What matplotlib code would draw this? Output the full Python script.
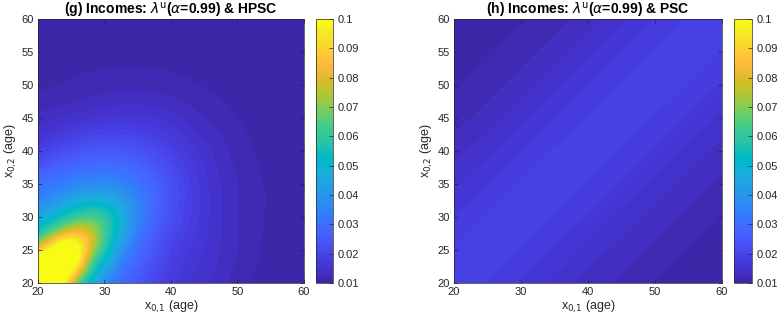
import numpy as np
import matplotlib
matplotlib.use("Agg")
import matplotlib.pyplot as plt
import matplotlib.tri as mtri
from matplotlib.colors import ListedColormap, Normalize
from matplotlib.cm import ScalarMappable

# (g) HPSC: edades de lectura (más densas cerca del pico)
ages_g = [20, 22, 24, 26, 28, 30, 32, 35, 40, 45, 50, 55, 60]
# filas = x_{0,2} (20 -> 60), columnas = x_{0,1} (20 -> 60)
lam_hpsc = [
    [0.1250, 0.1118, 0.0968, 0.0646, 0.0500, 0.0376, 0.0300, 0.0239, 0.0174, 0.0146, 0.0121, 0.0108, 0.0103],
    [0.1125, 0.1160, 0.1069, 0.0866, 0.0595, 0.0454, 0.0348, 0.0263, 0.0182, 0.0150, 0.0124, 0.0109, 0.0103],
    [0.1000, 0.1074, 0.1075, 0.0995, 0.0711, 0.0534, 0.0400, 0.0287, 0.0191, 0.0153, 0.0127, 0.0110, 0.0103],
    [0.0700, 0.0887, 0.1003, 0.0964, 0.0792, 0.0600, 0.0459, 0.0314, 0.0201, 0.0157, 0.0128, 0.0110, 0.0104],
    [0.0539, 0.0633, 0.0743, 0.0800, 0.0747, 0.0625, 0.0500, 0.0340, 0.0214, 0.0160, 0.0129, 0.0111, 0.0104],
    [0.0440, 0.0504, 0.0562, 0.0616, 0.0630, 0.0585, 0.0499, 0.0355, 0.0224, 0.0162, 0.0129, 0.0111, 0.0104],
    [0.0369, 0.0406, 0.0450, 0.0491, 0.0512, 0.0503, 0.0453, 0.0353, 0.0230, 0.0163, 0.0129, 0.0112, 0.0104],
    [0.0300, 0.0320, 0.0340, 0.0359, 0.0371, 0.0373, 0.0360, 0.0316, 0.0226, 0.0161, 0.0128, 0.0111, 0.0104],
    [0.0182, 0.0203, 0.0220, 0.0234, 0.0243, 0.0247, 0.0245, 0.0232, 0.0190, 0.0149, 0.0122, 0.0109, 0.0103],
    [0.0132, 0.0138, 0.0144, 0.0150, 0.0155, 0.0159, 0.0161, 0.0160, 0.0148, 0.0128, 0.0114, 0.0105, 0.0103],
    [0.0111, 0.0113, 0.0115, 0.0118, 0.0120, 0.0122, 0.0123, 0.0123, 0.0120, 0.0113, 0.0108, 0.0103, 0.0102],
    [0.0104, 0.0104, 0.0105, 0.0106, 0.0107, 0.0108, 0.0109, 0.0109, 0.0108, 0.0105, 0.0103, 0.0103, 0.0102],
    [0.0102, 0.0102, 0.0102, 0.0103, 0.0103, 0.0103, 0.0103, 0.0103, 0.0103, 0.0103, 0.0102, 0.0102, 0.0102],
]

# (h) PSC: banda suave a lo largo de la diagonal
ages_h = [20, 25, 30, 35, 40, 45, 50, 55, 60]
lam_psc = [
    [0.0193, 0.0183, 0.0168, 0.0151, 0.0137, 0.0124, 0.0113, 0.0110, 0.0108],
    [0.0186, 0.0193, 0.0183, 0.0168, 0.0151, 0.0137, 0.0124, 0.0113, 0.0110],
    [0.0170, 0.0186, 0.0193, 0.0183, 0.0168, 0.0151, 0.0137, 0.0124, 0.0113],
    [0.0152, 0.0170, 0.0186, 0.0193, 0.0183, 0.0168, 0.0151, 0.0137, 0.0124],
    [0.0135, 0.0152, 0.0170, 0.0186, 0.0193, 0.0183, 0.0168, 0.0151, 0.0137],
    [0.0122, 0.0135, 0.0152, 0.0170, 0.0186, 0.0193, 0.0183, 0.0168, 0.0151],
    [0.0112, 0.0122, 0.0135, 0.0152, 0.0170, 0.0186, 0.0193, 0.0183, 0.0168],
    [0.0108, 0.0112, 0.0122, 0.0135, 0.0152, 0.0170, 0.0186, 0.0193, 0.0183],
    [0.0105, 0.0108, 0.0112, 0.0122, 0.0135, 0.0152, 0.0170, 0.0186, 0.0193],
]

titles = [r"(g) Incomes: $\lambda^{\mathrm{u}}$($\alpha$=0.99) & HPSC",
          r"(h) Incomes: $\lambda^{\mathrm{u}}$($\alpha$=0.99) & PSC"]
cticks = [0.01, 0.02, 0.03, 0.04, 0.05, 0.06, 0.07, 0.08, 0.09, 0.1]
clabels = ["0.01", "0.02", "0.03", "0.04", "0.05", "0.06", "0.07", "0.08", "0.09", "0.1"]
xticks = [20, 30, 40, 50, 60]
yticks = [20, 25, 30, 35, 40, 45, 50, 55, 60]

# parula de 64 colores (como MATLAB)
parula = ListedColormap([
    (0.2422, 0.1504, 0.6603), (0.2504, 0.1650, 0.7076), (0.2578, 0.1818, 0.7511), (0.2647, 0.1978, 0.7952),
    (0.2706, 0.2147, 0.8364), (0.2751, 0.2342, 0.8710), (0.2783, 0.2559, 0.8991), (0.2803, 0.2782, 0.9221),
    (0.2813, 0.3006, 0.9414), (0.2810, 0.3228, 0.9579), (0.2795, 0.3447, 0.9717), (0.2760, 0.3667, 0.9829),
    (0.2699, 0.3892, 0.9906), (0.2602, 0.4123, 0.9952), (0.2440, 0.4358, 0.9988), (0.2206, 0.4603, 0.9973),
    (0.1963, 0.4847, 0.9892), (0.1834, 0.5074, 0.9798), (0.1786, 0.5289, 0.9682), (0.1764, 0.5499, 0.9520),
    (0.1687, 0.5703, 0.9359), (0.1540, 0.5902, 0.9218), (0.1460, 0.6091, 0.9079), (0.1380, 0.6276, 0.8973),
    (0.1248, 0.6459, 0.8883), (0.1113, 0.6635, 0.8763), (0.0952, 0.6798, 0.8598), (0.0689, 0.6948, 0.8394),
    (0.0297, 0.7082, 0.8163), (0.0036, 0.7203, 0.7917), (0.0067, 0.7312, 0.7660), (0.0433, 0.7411, 0.7394),
    (0.0964, 0.7500, 0.7120), (0.1408, 0.7584, 0.6842), (0.1717, 0.7670, 0.6554), (0.1938, 0.7758, 0.6251),
    (0.2161, 0.7843, 0.5923), (0.2470, 0.7918, 0.5567), (0.2906, 0.7973, 0.5188), (0.3406, 0.8008, 0.4789),
    (0.3909, 0.8029, 0.4354), (0.4456, 0.8024, 0.3909), (0.5044, 0.7993, 0.3480), (0.5616, 0.7942, 0.3045),
    (0.6174, 0.7876, 0.2612), (0.6720, 0.7793, 0.2227), (0.7242, 0.7698, 0.1910), (0.7738, 0.7598, 0.1646),
    (0.8203, 0.7498, 0.1535), (0.8634, 0.7406, 0.1596), (0.9035, 0.7330, 0.1774), (0.9393, 0.7288, 0.2100),
    (0.9728, 0.7298, 0.2394), (0.9956, 0.7434, 0.2371), (0.9970, 0.7659, 0.2199), (0.9952, 0.7893, 0.2028),
    (0.9892, 0.8136, 0.1885), (0.9786, 0.8386, 0.1766), (0.9676, 0.8639, 0.1643), (0.9610, 0.8890, 0.1537),
    (0.9597, 0.9135, 0.1423), (0.9628, 0.9373, 0.1265), (0.9691, 0.9606, 0.1064), (0.9769, 0.9839, 0.0805),
], name="parula")

plt.rcParams["font.family"] = ["Liberation Sans", "DejaVu Sans"]
plt.rcParams["mathtext.fontset"] = "dejavusans"
gray = (0.15, 0.15, 0.15)
levels = np.linspace(0.01, 0.1, 65)


def grid_triangulation(ages):
    # malla con diagonales orientadas a lo largo de x=y
    n = len(ages)
    gx, gy = np.meshgrid(ages, ages)
    tris = []
    for i in range(n - 1):
        for j in range(n - 1):
            a, b = i * n + j, i * n + j + 1
            c, d = (i + 1) * n + j, (i + 1) * n + j + 1
            tris.append([a, b, d])
            tris.append([a, d, c])
    return mtri.Triangulation(gx.ravel(), gy.ravel(), triangles=tris)


fig = plt.figure(figsize=(7.77, 3.23), dpi=100)
axes_pos = [[0.0489, 0.1238, 0.3423, 0.8173], [0.5843, 0.1238, 0.3449, 0.8173]]
cbar_pos = [[0.4067, 0.1238, 0.0219, 0.8173], [0.9447, 0.1238, 0.0232, 0.8173]]

panels = [(ages_g, lam_hpsc), (ages_h, lam_psc)]
for k, (ages, data) in enumerate(panels):
    ax = fig.add_axes(axes_pos[k])
    triang = grid_triangulation(ages)
    tri_fine, z_fine = mtri.UniformTriRefiner(triang).refine_field(
        np.array(data).ravel(), subdiv=3)
    ax.tricontourf(tri_fine, z_fine, levels=levels, cmap=parula,
                   norm=Normalize(vmin=0.01, vmax=0.1), extend="both")
    ax.set_xlim(20, 60)
    ax.set_ylim(20, 60)
    ax.set_xticks(xticks)
    ax.set_yticks(yticks)
    ax.tick_params(direction="in", top=True, right=True, length=3, width=0.5,
                   labelsize=8, colors=gray, pad=3)
    for s in ax.spines.values():
        s.set_color(gray)
        s.set_linewidth(0.5)
    ax.set_xlabel(r"x$_{0{,}1}$ (age)", fontsize=9, color=gray, labelpad=1)
    ax.set_ylabel(r"x$_{0{,}2}$ (age)", fontsize=9, color=gray, labelpad=2)
    ax.set_title(titles[k], fontsize=10, fontweight="bold", pad=3)

    cax = fig.add_axes(cbar_pos[k])
    sm = ScalarMappable(norm=Normalize(vmin=0.01, vmax=0.1), cmap=parula)
    cb = fig.colorbar(sm, cax=cax)
    cb.set_ticks(cticks, labels=clabels)
    cb.ax.tick_params(direction="in", length=3, width=0.5, labelsize=8, colors=gray, pad=3)
    cb.outline.set_edgecolor(gray)
    cb.outline.set_linewidth(0.5)

fig.savefig("out.png", dpi=100)
